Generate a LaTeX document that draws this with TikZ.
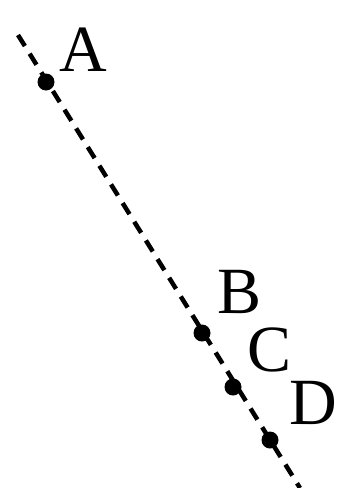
\documentclass[tikz,border=0pt]{standalone}
\usepackage{fontspec}
\setmainfont{Liberation Serif}
\begin{document}
\begin{tikzpicture}[x=1pt,y=-1pt,
  dot/.style={circle, fill=black, inner sep=0pt, minimum size=17pt},
  lbl/.style={font=\fontsize{66}{70}\selectfont, inner sep=0pt}]

\useasboundingbox (0,0) rectangle (340,488);

\coordinate (top) at (18,35);
\coordinate (bot) at (300,488);
\draw[line width=4.5pt, dash pattern=on 13pt off 9pt] (top) -- (bot);

\foreach \name/\x/\y/\lx/\ly in {A/46/82/83/50, B/202/333/240/292, C/233/387/270/350, D/270/440/313/403}{
       \node[dot] (p\name) at (\x,\y) {};
       \node[lbl] (\name) at (\lx,\ly) {\name};
}

\end{tikzpicture}
\end{document}
